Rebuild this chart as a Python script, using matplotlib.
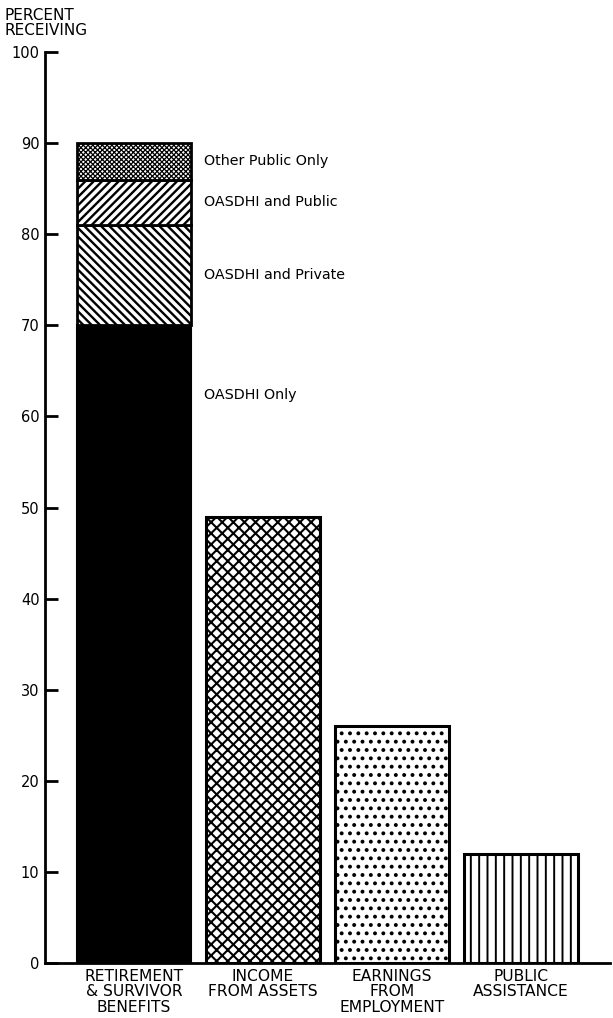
import numpy as np
import matplotlib.pyplot as plt

plt.rcParams['font.family'] = ['DejaVu Sans']

# data
categories = ["RETIREMENT\n& SURVIVOR\nBENEFITS", "INCOME\nFROM ASSETS",
              "EARNINGS\nFROM\nEMPLOYMENT", "PUBLIC\nASSISTANCE"]
totals = [90, 49, 26, 12]

# breakdown of the first bar (bottom to top)
seg_names = ["OASDHI Only", "OASDHI and Private", "OASDHI and Public", "Other Public Only"]
seg_values = [70, 11, 5, 4]

seg_hatch = [None, "\\\\\\\\", "////", "xxxxxxx"]
other_hatch = ["xxx", "..", "||"]

fig = plt.figure(figsize=(6.13, 10.18), dpi=100)
ax = fig.add_axes([45 / 613, 55 / 1018, 565 / 613, 911 / 1018])

x = np.arange(len(categories))
w = 0.89

bottom = 0
for name, v, h in zip(seg_names, seg_values, seg_hatch):
    if h is None:
        ax.bar(x[0], v, w, bottom=bottom, color='black', edgecolor='black', linewidth=1.5)
    else:
        plt.rcParams['hatch.linewidth'] = 0.9 if h.startswith('x') else 1.7
        ax.bar(x[0], v, w, bottom=bottom, color='white', edgecolor='black',
               hatch=h, linewidth=2)
    bottom += v

lab_y = [62.3, None, None, None]
cum = np.cumsum([0] + seg_values)
for i, name in enumerate(seg_names):
    yy = lab_y[i] if lab_y[i] is not None else (cum[i] + cum[i + 1]) / 2
    ax.text(x[0] + w / 2 + 0.1, yy, name, fontsize=10.3, va='center', ha='left')

for i in range(1, 4):
    plt.rcParams['hatch.linewidth'] = {"xxx": 1.5, "..": 1.6, "||": 1.4}[other_hatch[i - 1]]
    ax.bar(x[i], totals[i], w, color='white', edgecolor='black',
           hatch=other_hatch[i - 1], linewidth=2.2)

ax.set_xlim(-0.69, 3.69)
ax.set_ylim(0, 100)
ax.set_yticks(np.arange(0, 101, 10))
ax.tick_params(axis='y', direction='in', length=9, width=2, labelsize=10.5, pad=4)
ax.set_xticks(x)
ax.set_xticklabels(categories, fontsize=11.2, linespacing=1.05)
ax.tick_params(axis='x', length=0, pad=4)
for s in ['top', 'right']:
    ax.spines[s].set_visible(False)
ax.spines['left'].set_linewidth(2)
ax.spines['bottom'].set_linewidth(2)

fig.text(5 / 613, 1 - 8 / 1018, "PERCENT\nRECEIVING", fontsize=11, va='top', ha='left',
         linespacing=1.0)

fig.savefig("out.png", dpi=100)
